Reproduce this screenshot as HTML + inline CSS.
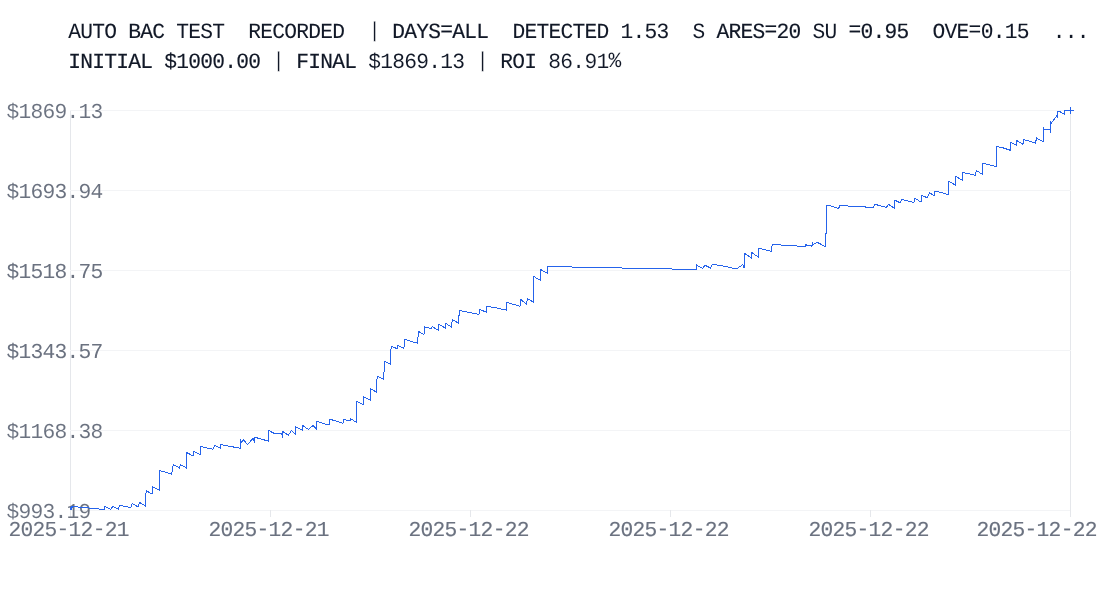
<!DOCTYPE html>
<html lang="en">
<head>
<meta charset="utf-8">
<title>Auto Backtest Equity Curve</title>
<style>
  html, body { margin: 0; padding: 0; background: #ffffff; }
  body { width: 1100px; height: 600px; overflow: hidden; }
  svg { display: block; }
  text { font-family: "Liberation Mono", monospace; font-size: 21.25px; letter-spacing: -0.752px; white-space: pre; text-rendering: geometricPrecision; }
</style>
</head>
<body>
<svg width="1100" height="600" viewBox="0 0 1100 600">
<rect x="0" y="0" width="1100" height="600" fill="#ffffff"/>

<!-- title -->
<text class="t" xml:space="preserve" transform="translate(68.2,38) scale(1,1.02)" fill="#111827"><tspan stroke="#111827" stroke-width="0.062">AUTO </tspan><tspan stroke="#111827" stroke-width="0.14">BAC </tspan><tspan stroke="#111827" stroke-width="0.03">TEST  </tspan><tspan stroke="#111827" stroke-width="0.049">RECORDED  </tspan><tspan dy="-1 1" stroke="#ffffff" stroke-width="0.364">| </tspan><tspan dy="0 0 0 0 -2 2" stroke="#111827" stroke-width="0.183">DAYS=ALL  </tspan><tspan stroke="#111827" stroke-width="0.065">DETECTED </tspan><tspan stroke="#111827" stroke-width="0.049">1.53  </tspan><tspan stroke="#ffffff" stroke-width="0.022">S </tspan><tspan dy="0 0 0 0 -2 2" stroke="#111827" stroke-width="0.155">ARES=20 </tspan><tspan stroke="#ffffff" stroke-width="0.026">SU </tspan><tspan dy="-2 2" stroke="#111827" stroke-width="0.157">=0.95  </tspan><tspan dy="0 0 0 -2 2" stroke="#111827" stroke-width="0.077">OVE=0.15  </tspan><tspan stroke="#111827" stroke-width="0.045">...</tspan></text>
<text class="t" xml:space="preserve" transform="translate(68.2,68) scale(1,1.02)" fill="#111827"><tspan stroke="#111827" stroke-width="0.212">INITIAL </tspan><tspan stroke="#111827" stroke-width="0.114">$1000.00 </tspan><tspan dy="-1 1" stroke="#ffffff" stroke-width="0.364">| </tspan><tspan stroke="#111827" stroke-width="0.171">FINAL </tspan><tspan stroke="#ffffff" stroke-width="0.039">$1869.13 </tspan><tspan dy="-1 1" stroke="#ffffff" stroke-width="0.364">| </tspan><tspan stroke="#111827" stroke-width="0.06">ROI </tspan><tspan dy="0 0 0 0 0 -1" stroke="#ffffff" stroke-width="0.079">86.91%</tspan></text>
<!-- plot frame: left and right edges -->
<g stroke="#e5e7eb" stroke-width="1" shape-rendering="crispEdges">
<line x1="70.5" y1="110" x2="70.5" y2="510"/>
<line x1="1070.5" y1="110" x2="1070.5" y2="510"/>
</g>
<!-- horizontal grid -->
<g stroke="#f3f4f6" stroke-width="1" shape-rendering="crispEdges">
<line x1="70" y1="110.5" x2="1071" y2="110.5"/>
<line x1="70" y1="190.5" x2="1071" y2="190.5"/>
<line x1="70" y1="270.5" x2="1071" y2="270.5"/>
<line x1="70" y1="350.5" x2="1071" y2="350.5"/>
<line x1="70" y1="430.5" x2="1071" y2="430.5"/>
<line x1="70" y1="510.5" x2="1071" y2="510.5"/>
</g>
<!-- x axis ticks -->
<g stroke="#e5e7eb" stroke-width="1" shape-rendering="crispEdges">
<line x1="70.5" y1="510" x2="70.5" y2="517"/>
<line x1="270.5" y1="510" x2="270.5" y2="517"/>
<line x1="470.5" y1="510" x2="470.5" y2="517"/>
<line x1="670.5" y1="510" x2="670.5" y2="517"/>
<line x1="870.5" y1="510" x2="870.5" y2="517"/>
<line x1="1070.5" y1="510" x2="1070.5" y2="517"/>
</g>
<!-- y axis labels -->
<text class="l" xml:space="preserve" x="6.4" y="118" fill="#6b7280"><tspan stroke="#ffffff" stroke-width="0.064">$1869.13</tspan></text>
<text class="l" xml:space="preserve" x="6.4" y="198" fill="#6b7280"><tspan stroke="#ffffff" stroke-width="0.037">$1693.94</tspan></text>
<text class="l" xml:space="preserve" x="6.4" y="278" fill="#6b7280"><tspan>$1518.75</tspan></text>
<text class="l" xml:space="preserve" x="6.4" y="358" fill="#6b7280"><tspan stroke="#6b7280" stroke-width="0.021">$1343.57</tspan></text>
<text class="l" xml:space="preserve" x="6.4" y="438" fill="#6b7280"><tspan stroke="#ffffff" stroke-width="0.061">$1168.38</tspan></text>
<text class="l" xml:space="preserve" x="6.4" y="518" fill="#6b7280"><tspan stroke="#ffffff" stroke-width="0.065">$993.19</tspan></text>
<!-- x axis labels -->
<text class="l" xml:space="preserve" x="8.53" y="536" fill="#6b7280"><tspan dy="0 0 0 0 -1 1 0 -1 1" stroke="#6b7280" stroke-width="0.105">2025-12-21</tspan></text>
<text class="l" xml:space="preserve" x="208.53" y="536" fill="#6b7280"><tspan dy="0 0 0 0 -1 1 0 -1 1" stroke="#6b7280" stroke-width="0.132">2025-12-21</tspan></text>
<text class="l" xml:space="preserve" x="408.53" y="536" fill="#6b7280"><tspan dy="0 0 0 0 -1 1 0 -1 1" stroke="#6b7280" stroke-width="0.162">2025-12-22</tspan></text>
<text class="l" xml:space="preserve" x="608.53" y="536" fill="#6b7280"><tspan dy="0 0 0 0 -1 1 0 -1 1" stroke="#6b7280" stroke-width="0.162">2025-12-22</tspan></text>
<text class="l" xml:space="preserve" x="808.53" y="536" fill="#6b7280"><tspan dy="0 0 0 0 -1 1 0 -1 1" stroke="#6b7280" stroke-width="0.162">2025-12-22</tspan></text>
<text class="l" xml:space="preserve" x="976.53" y="536" fill="#6b7280"><tspan dy="0 0 0 0 -1 1 0 -1 1" stroke="#6b7280" stroke-width="0.162">2025-12-22</tspan></text>
<!-- equity curve -->
<path d="M70.5 506.5 L70.5 508.9 L71.5 507.1 L71.5 510.4 L72.5 506.5 L77.8 507.0 L89.0 508.0 L98.8 509.0 L104.3 509.5 L104.5 506.4 L110.9 509.4 L112.8 506.4 L118.3 509.1 L119.8 505.5 L126.2 506.4 L130.6 507.8 L132.3 503.4 L137.9 506.8 L139.5 502.4 L145.3 505.9 L145.5 496.0 L146.5 490.7 L152.0 494.1 L152.7 486.8 L159.3 489.9 L159.5 470.5 L171.7 474.1 L173.3 464.4 L179.4 468.0 L180.3 464.4 L186.4 468.0 L186.6 452.5 L193.0 455.9 L193.9 451.5 L200.0 454.6 L200.2 454.3 L200.8 446.3 L206.5 447.9 L212.9 449.2 L214.6 445.4 L220.3 448.3 L220.9 444.5 L228.2 446.0 L240.3 448.3 L240.7 439.4 L241.2 442.8 L243.2 439.4 L247.5 444.5 L253.0 438.4 L254.3 441.5 L254.9 437.3 L261.3 439.0 L268.3 441.2 L268.7 430.5 L274.0 433.3 L281.9 433.7 L282.4 438.1 L282.7 431.4 L288.3 435.2 L291.6 430.5 L295.4 434.3 L295.6 426.7 L302.3 430.1 L302.8 425.6 L308.4 429.5 L313.2 425.4 L316.3 429.2 L316.6 421.2 L322.4 423.3 L329.0 425.0 L329.6 419.3 L334.6 420.5 L342.9 423.4 L343.5 419.2 L349.9 421.1 L350.5 418.5 L356.3 422.4 L356.7 401.4 L363.3 404.8 L363.7 396.7 L370.3 400.1 L370.7 388.6 L376.3 392.1 L376.6 379.7 L377.9 376.3 L383.3 379.1 L383.9 373.4 L384.7 361.3 L390.3 364.1 L390.8 349.8 L391.7 346.3 L397.2 348.8 L397.8 345.4 L403.9 348.3 L404.6 339.4 L410.5 341.2 L417.3 343.2 L417.9 337.7 L418.6 331.4 L423.9 334.8 L424.8 326.9 L431.5 328.8 L432.2 326.7 L438.3 330.1 L438.8 324.4 L445.2 327.9 L445.7 323.3 L451.5 327.2 L452.3 319.5 L458.3 323.1 L459.2 313.5 L459.9 310.4 L467.8 312.3 L479.0 314.4 L479.7 309.3 L486.3 312.3 L486.9 306.3 L497.1 308.1 L506.4 310.1 L506.9 302.5 L512.4 304.0 L520.0 306.3 L520.6 299.4 L526.5 304.1 L527.4 298.6 L533.5 302.2 L533.8 276.5 L540.3 280.3 L540.5 269.5 L547.3 273.2 L547.7 266.3 L571.7 266.5 L572.4 267.4 L621.7 267.4 L622.5 268.5 L650.0 268.5 L671.6 268.4 L672.5 269.4 L696.4 269.4 L696.8 265.2 L702.6 268.4 L704.9 265.2 L710.6 268.1 L712.5 264.3 L721.5 265.6 L734.2 268.4 L737.4 268.4 L742.8 264.5 L744.4 268.4 L744.6 253.3 L751.4 257.9 L751.7 252.5 L758.4 257.2 L758.7 248.3 L765.4 249.9 L771.1 251.2 L772.4 244.2 L780.0 244.2 L780.8 244.5 L781.5 245.4 L796.7 245.4 L797.4 246.4 L805.4 246.4 L805.9 244.5 L806.9 245.4 L811.4 245.6 L812.0 246.4 L812.6 243.5 L813.3 244.5 L817.1 242.2 L825.0 246.4 L825.5 246.0 L825.6 233.7 L826.3 233.3 L826.4 205.3 L832.4 206.3 L838.7 208.5 L839.7 205.5 L847.4 205.5 L848.3 206.3 L864.8 206.3 L865.5 207.4 L873.3 207.4 L875.0 204.3 L880.7 205.9 L886.5 207.4 L888.4 204.3 L894.1 208.1 L894.7 200.2 L900.1 202.7 L901.7 199.3 L910.0 201.5 L914.0 202.4 L915.0 198.3 L921.0 202.1 L921.9 195.4 L927.4 197.9 L929.5 192.4 L934.1 196.0 L935.0 191.3 L940.7 192.4 L948.1 194.5 L948.6 181.4 L955.1 184.8 L955.7 176.3 L962.1 180.1 L963.0 172.5 L968.7 173.7 L975.1 175.4 L976.4 170.5 L982.1 174.1 L982.7 163.3 L989.1 164.8 L996.1 166.5 L996.7 146.4 L1003.1 147.9 L1010.1 150.2 L1010.7 142.3 L1016.1 145.1 L1016.8 140.6 L1022.9 144.3 L1023.6 139.5 L1027.5 140.6 L1035.3 143.1 L1036.7 138.1 L1043.1 141.6 L1043.5 127.1 L1044.0 130.3 L1044.5 129.6 L1050.0 129.4 L1050.4 132.6 L1050.4 121.6 L1051.1 123.4 L1057.3 115.2 L1057.6 118.4 L1057.9 111.5 L1059.6 111.5 L1064.2 114.2 L1064.6 110.4 L1070.6 110.4" fill="none" stroke="#2563eb" stroke-width="1" stroke-linejoin="miter" stroke-linecap="butt" shape-rendering="crispEdges"/>
<path d="M1067 110.5 H1074 M1070.5 107 V114" fill="none" stroke="#2563eb" stroke-width="1" shape-rendering="crispEdges"/>
</svg>
</body>
</html>
